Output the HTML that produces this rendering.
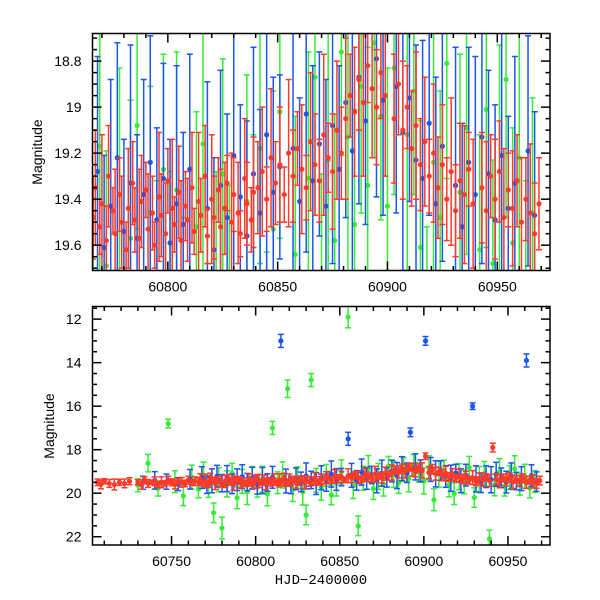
<!DOCTYPE html>
<html><head><meta charset="utf-8">
<style>
html,body{margin:0;padding:0;background:#fff;width:600px;height:600px;overflow:hidden;position:relative}
svg{display:block;position:absolute;left:0;top:0}
text{font-family:"Liberation Sans",sans-serif;fill:#000}
</style></head>
<body>
<svg id="chart" width="600" height="600" viewBox="0 0 600 600" xmlns="http://www.w3.org/2000/svg">
<defs>
<clipPath id="clipTop"><rect x="92.5" y="33.5" width="457.5" height="237"/></clipPath>
<clipPath id="clipBot"><rect x="92.5" y="306.5" width="457.5" height="238.5"/></clipPath>
</defs>
<g id="top"></g>
<g id="bot"></g>
<text transform="translate(42,152) rotate(-90)" text-anchor="middle" font-size="14">Magnitude</text>
<text transform="translate(54,426) rotate(-90)" text-anchor="middle" font-size="14">Magnitude</text>
<text x="321" y="584" text-anchor="middle" font-size="14" style="font-family:'Liberation Mono',monospace">HJD−2400000</text>
</svg>
<script>
// ---- data ----
const redT=[60706,60708,60710,60713,60716,60719,60722,60725,60730,60732,60734,60736,60738,60740,60742,60744,60746,60748,60750,60752,60754,60756,60758,60760,60762,60764,
60766,60767,60769,60770,60772,60773,60775,60776,60778,60779,60781,60782,60784,60785,60787,60788,60790,60791,60793,60794,60796,60797,60799,60800,60802,60803,60805,60806,60808,60809,60811,60812,60814,60815,60817,60818,60820,60821,60823,60824,60826,60827,60829,60830,60832,60833,60835,60836,60838,60839,
60841,60843,60845,60847,60849,60851,60853,60855,60857,60859,60861,60863,60865,60867,60869,60871,60873,60875,60877,60879,60881,60883,60885,60887,60889,60891,60893,60895,60897,60899,60901,60903,60905,60907,60909,60911,60913,60915,60917,60919,60921,60923,60925,60927,60929,60931,60933,60935,60937,60939,60941,60943,60945,60947,60949,60951,60953,60955,60957,60959,60961,60963,60965,60967,60969];
const redM=[19.5,19.6,19.45,19.55,19.6,19.5,19.55,19.45,19.5,19.6,19.4,19.55,19.5,19.45,19.6,19.5,19.55,19.4,19.5,19.6,19.45,19.5,19.55,19.4,19.5,19.45,
19.48,19.35,19.52,19.42,19.58,19.30,19.45,19.55,19.38,19.50,19.62,19.44,19.33,19.49,19.57,19.41,19.36,19.53,19.46,19.60,19.39,19.47,19.55,19.32,19.44,19.51,19.37,19.58,19.43,19.49,19.35,19.54,19.41,19.47,19.30,19.56,19.40,19.48,19.36,19.52,19.44,19.33,19.50,19.38,19.46,19.55,19.31,19.42,19.49,19.37,
19.35,19.28,19.40,19.22,19.33,19.25,19.38,19.20,19.30,19.18,19.27,19.35,19.15,19.25,19.32,19.12,19.22,19.28,19.10,19.20,19.05,18.95,19.02,18.88,18.98,18.82,18.92,19.00,18.85,18.95,18.30,19.05,18.90,19.10,19.00,19.18,19.08,19.25,19.15,19.30,19.20,19.35,19.25,19.40,19.28,19.45,19.32,19.38,19.27,19.42,17.90,19.35,19.45,19.30,19.40,19.28,19.48,19.36,19.44,19.32,19.50,19.40,19.46,19.55,19.42];
const redE=[0.15,0.2,0.12,0.18,0.25,0.14,0.2,0.16,0.12,0.22,0.15,0.18,0.1,0.2,0.14,0.25,0.12,0.18,0.16,0.2,0.13,0.22,0.15,0.18,0.12,0.2,
0.18,0.25,0.12,0.3,0.15,0.22,0.1,0.28,0.16,0.2,0.12,0.26,0.18,0.14,0.3,0.2,0.12,0.24,0.16,0.1,0.28,0.18,0.22,0.14,0.3,0.12,0.2,0.26,0.15,0.18,0.24,0.1,0.3,0.16,0.22,0.12,0.28,0.18,0.14,0.25,0.2,0.12,0.3,0.16,0.22,0.1,0.26,0.18,0.14,0.24,
0.2,0.28,0.14,0.3,0.18,0.25,0.12,0.32,0.2,0.16,0.28,0.14,0.3,0.22,0.18,0.35,0.15,0.25,0.3,0.2,0.35,0.18,0.28,0.22,0.32,0.16,0.3,0.25,0.2,0.35,0.15,0.28,0.22,0.3,0.18,0.25,0.32,0.2,0.28,0.16,0.3,0.22,0.26,0.18,0.32,0.2,0.25,0.3,0.16,0.28,0.2,0.24,0.3,0.18,0.26,0.22,0.3,0.16,0.25,0.2,0.28,0.18,0.3,0.22,0.2];
const blueT=[60733,60740,60747,60754,60761,60768,60771,60774,60777,60780,60783,60786,60789,60792,60795,60798,60801,60804,60807,60810,60815,60818,60821,60824,60827,60830,60833,60836,60839,60842,60845,60848,60851,60855,60857,60860,60863,60866,60869,60872,60875,60878,60881,60884,60887,60890,60892,60895,60898,60901,60904,60907,60910,60913,60916,60919,60922,60925,60929,60931,60934,60937,60940,60943,60946,60949,60952,60955,60958,60961,60964,60967];
const blueM=[19.52,19.41,19.47,19.58,19.36,19.28,19.61,19.43,19.22,19.54,19.33,19.57,19.38,19.24,19.49,19.31,19.59,19.42,19.51,19.27,13.0,19.44,19.62,19.34,19.48,19.21,19.39,19.56,19.29,19.46,19.12,19.37,19.26,17.5,19.18,19.41,19.03,19.32,19.16,19.43,19.08,19.27,18.98,19.19,18.87,19.06,17.2,18.79,18.97,13.0,18.91,19.11,18.96,19.23,19.31,19.07,19.42,19.17,16.0,19.34,19.52,19.24,19.38,19.13,19.29,19.49,19.21,19.44,19.33,13.9,19.19,19.47];
const blueE=[0.3,0.4,0.35,0.3,0.45,0.5,0.4,0.55,0.5,0.4,0.6,0.45,0.5,0.55,0.4,0.5,0.45,0.6,0.4,0.5,0.3,0.55,0.4,0.5,0.45,0.6,0.4,0.5,0.55,0.45,0.6,0.5,0.4,0.3,0.55,0.45,0.6,0.5,0.4,0.55,0.6,0.45,0.5,0.6,0.55,0.45,0.2,0.6,0.5,0.2,0.55,0.6,0.45,0.5,0.6,0.4,0.55,0.5,0.15,0.6,0.45,0.5,0.6,0.55,0.45,0.5,0.6,0.4,0.55,0.3,0.5,0.45];
const greenT=[60730,60736,60742,60748,60752,60757,60762,60766,60769,60772,60775,60778,60780,60783,60786,60789,60792,60795,60798,60801,60804,60807,60810,60813,60816,60819,60822,60825,60828,60830,60833,60836,60839,60842,60845,60848,60851,60855,60858,60861,60864,60867,60870,60873,60876,60879,60882,60885,60888,60891,60894,60897,60900,60903,60906,60909,60912,60915,60918,60921,60924,60927,60930,60933,60936,60939,60942,60945,60948,60951,60954,60957,60960,60963,60966];
const greenM=[19.63,18.62,19.78,16.8,19.47,20.12,19.26,19.81,19.17,19.69,20.9,19.38,21.6,19.57,19.08,20.21,19.46,19.92,19.27,19.73,19.36,20.03,17.0,19.52,19.16,15.2,19.83,19.29,19.94,21.0,14.8,19.41,19.72,19.18,20.08,19.53,19.02,11.9,19.64,21.5,19.31,18.87,19.79,19.23,19.58,18.76,19.13,19.51,18.91,19.34,18.72,19.04,19.43,18.83,20.3,19.12,18.93,19.61,20.02,19.24,19.48,18.81,20.2,19.37,19.09,22.1,19.62,19.01,19.68,19.28,18.88,19.59,19.22,19.77,19.46];
const greenE=[0.3,0.4,0.35,0.2,0.5,0.45,0.55,0.4,0.6,0.5,0.45,0.55,0.5,0.6,0.45,0.5,0.55,0.6,0.5,0.45,0.6,0.55,0.3,0.5,0.6,0.4,0.55,0.5,0.6,0.45,0.3,0.55,0.6,0.5,0.45,0.6,0.55,0.5,0.6,0.45,0.55,0.6,0.5,0.6,0.55,0.45,0.6,0.5,0.55,0.6,0.5,0.45,0.6,0.55,0.5,0.6,0.45,0.55,0.5,0.6,0.55,0.5,0.45,0.6,0.55,0.4,0.5,0.6,0.45,0.55,0.6,0.5,0.55,0.45,0.5];
const topXTicks=[60800,60850,60900,60950];
const topYTicks=[18.8,19,19.2,19.4,19.6];
const botXTicks=[60750,60800,60850,60900,60950];
const botYTicks=[12,14,16,18,20,22];

const NS="http://www.w3.org/2000/svg";
function mk(tag,attrs,parent){const e=document.createElementNS(NS,tag);for(const k in attrs)e.setAttribute(k,attrs[k]);parent.appendChild(e);return e;}

function panel(g,box,xr,yr,xTicks,yTicks,xMinor,yMinor,clip,name){
  const X=v=>box.x+(v-xr[0])/(xr[1]-xr[0])*box.w;
  const Y=v=>box.y+(v-yr[0])/(yr[1]-yr[0])*box.h;
  const top=box.y,bot=box.y+box.h;
  const cl=v=>Math.max(top,Math.min(bot,v));
  const data=mk('g',{'clip-path':'url(#'+clip+')'},g);
  
  
  const series=[['green',greenT,greenM,greenE,'#33ee33'],['blue',blueT,blueM,blueE,'#1a55f0'],['red',redT,redM,redE,'#ff3a28']];
  series.forEach(([nm,T,M,E,col])=>{
    const sg=mk('g',{stroke:col,fill:col,'stroke-width':1.5},data);
    
    
    const n=Math.min(T.length,M.length,E.length);
    for(let i=0;i<n;i++){
      const x=X(T[i]),y1=Y(M[i]-E[i]),y2=Y(M[i]+E[i]),y=Y(M[i]);
      if(y2<top||y1>bot)continue;
      mk('line',{x1:x,x2:x,y1:cl(y1),y2:cl(y2)},sg);
      if(y1>=top)mk('line',{x1:x-3,x2:x+3,y1:y1,y2:y1},sg);
      if(y2<=bot)mk('line',{x1:x-3,x2:x+3,y1:y2,y2:y2},sg);
      if(y>=top-3&&y<=bot+3){
        const c=mk('circle',{cx:x,cy:y,r:2.6,stroke:'none'},sg);
        
        
      }
    }
  });
  const ax=mk('g',{stroke:'#000','stroke-width':1.5,fill:'none'},g);
  
  
  mk('rect',{x:box.x,y:box.y,width:box.w,height:box.h},ax);
  const x0=Math.ceil(xr[0]/xMinor)*xMinor;
  for(let v=x0;v<=xr[1];v+=xMinor){
    const maj=xTicks.includes(Math.round(v)),L=maj?9:4.5,x=X(v);
    mk('line',{x1:x,x2:x,y1:box.y+box.h,y2:box.y+box.h-L},ax);
    mk('line',{x1:x,x2:x,y1:box.y,y2:box.y+L},ax);
  }
  const ylo=Math.min(...yr),yhi=Math.max(...yr);
  for(let k=Math.ceil(ylo/yMinor-1e-6);k*yMinor<=yhi;k++){
    const v=k*yMinor;
    const maj=yTicks.some(t=>Math.abs(t-v)<1e-6),L=maj?9:4.5,y=Y(v);
    mk('line',{x1:box.x,x2:box.x+L,y1:y,y2:y},ax);
    mk('line',{x1:box.x+box.w,x2:box.x+box.w-L,y1:y,y2:y},ax);
  }
  xTicks.forEach(v=>{const t=mk('text',{x:X(v),y:box.y+box.h+21,'text-anchor':'middle','font-size':14},g);t.textContent=v;
    
    });
  yTicks.forEach(v=>{const t=mk('text',{x:box.x-11,y:Y(v)+5,'text-anchor':'end','font-size':14},g);t.textContent=v;
    
    });
}
panel(document.getElementById('top'),{x:92.5,y:33.5,w:457.5,h:237},[60765.7,60974],[18.68,19.71],topXTicks,topYTicks,10,0.05,'clipTop','top');
panel(document.getElementById('bot'),{x:92.5,y:306.5,w:457.5,h:238.5},[60703,60975],[11.42,22.38],botXTicks,botYTicks,10,0.5,'clipBot','bottom');
</script>
</body></html>
